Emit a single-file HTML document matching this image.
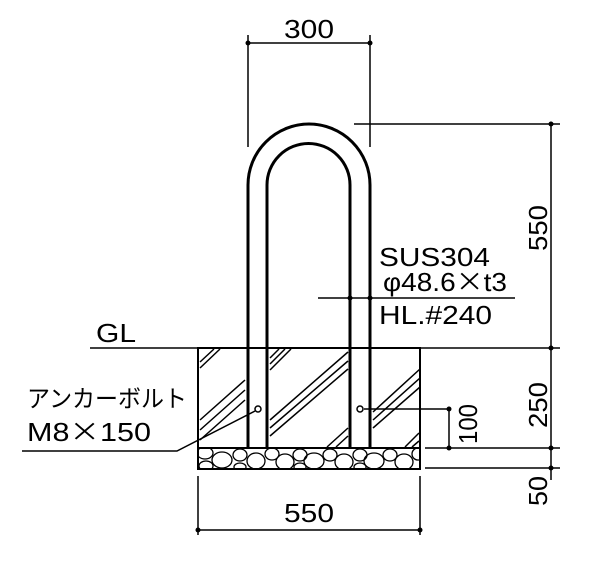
<!DOCTYPE html>
<html><head><meta charset="utf-8"><style>html,body{margin:0;padding:0;background:#fff}svg{display:block}</style></head>
<body>
<svg width="600" height="569" viewBox="0 0 600 569" xmlns="http://www.w3.org/2000/svg" font-family="Liberation Sans, Noto Sans CJK JP, sans-serif">
<defs>
<clipPath id="g"><rect x="199" y="449" width="220" height="19"/></clipPath>
</defs>
<g stroke="#000" fill="none">
<path d="M248 448 V185 A61 61 0 0 1 370 185 V448" stroke-width="3"/>
<path d="M267 448 V185 A41.5 41.5 0 0 1 350 185 V448" stroke-width="3"/>
<g stroke-width="1.5">
<line x1="248" y1="35" x2="248" y2="147"/>
<line x1="370" y1="35" x2="370" y2="147"/>
<line x1="248" y1="43" x2="370" y2="43"/>
<line x1="354" y1="124" x2="560" y2="124"/>
<line x1="551" y1="124" x2="551" y2="480"/>
<line x1="90" y1="348" x2="560" y2="348"/>
<line x1="425" y1="448" x2="560" y2="448"/>
<line x1="425" y1="468" x2="560" y2="468"/>
<rect x="198" y="348" width="222" height="121" stroke-width="2"/>
<line x1="198" y1="448" x2="420" y2="448" stroke-width="2"/>
<line x1="198" y1="476" x2="198" y2="535"/>
<line x1="420" y1="476" x2="420" y2="535"/>
<line x1="198" y1="530" x2="420" y2="530"/>
<line x1="318" y1="298" x2="515" y2="298"/>
<polyline points="255,411 177,451 22,451"/>
<line x1="364" y1="409" x2="449" y2="409"/>
<line x1="449" y1="409" x2="449" y2="448"/>
</g>
<g stroke-width="1.5">
<line x1="200" y1="362" x2="214" y2="349"/><line x1="200" y1="368" x2="220" y2="349"/>
<line x1="200" y1="420" x2="245" y2="380"/><line x1="200" y1="430" x2="245" y2="390"/><line x1="200" y1="440" x2="245" y2="400"/>
<line x1="270" y1="358" x2="279" y2="349"/><line x1="270" y1="364" x2="285" y2="349"/><line x1="270" y1="370" x2="291" y2="349"/>
<line x1="270" y1="420" x2="348" y2="352"/><line x1="270" y1="428" x2="348" y2="361"/><line x1="270" y1="436" x2="348" y2="369"/>
<line x1="327" y1="447" x2="348" y2="428"/><line x1="336" y1="447" x2="348" y2="436"/>
<line x1="373" y1="412" x2="420" y2="369"/><line x1="373" y1="420" x2="420" y2="378"/><line x1="373" y1="428" x2="420" y2="387"/>
<line x1="405" y1="447" x2="419" y2="433"/><line x1="412" y1="447" x2="419" y2="441"/>
</g>
<g clip-path="url(#g)" stroke-width="1.3">
<ellipse cx="205" cy="453" rx="8" ry="6"/><ellipse cx="222" cy="460" rx="10" ry="8"/><ellipse cx="240" cy="455" rx="7" ry="6"/><ellipse cx="206" cy="466" rx="7" ry="5"/>
<ellipse cx="256" cy="461" rx="9" ry="8"/><ellipse cx="272" cy="454" rx="7" ry="6"/><ellipse cx="285" cy="462" rx="9" ry="8"/><ellipse cx="300" cy="455" rx="7" ry="6"/>
<ellipse cx="314" cy="461" rx="10" ry="8"/><ellipse cx="330" cy="455" rx="7" ry="6"/><ellipse cx="344" cy="462" rx="9" ry="8"/><ellipse cx="360" cy="455" rx="7" ry="6"/>
<ellipse cx="374" cy="461" rx="10" ry="8"/><ellipse cx="390" cy="455" rx="7" ry="6"/><ellipse cx="404" cy="462" rx="9" ry="8"/><ellipse cx="418" cy="454" rx="6" ry="6"/>
<ellipse cx="240" cy="467" rx="6" ry="4"/><ellipse cx="300" cy="467" rx="6" ry="4"/><ellipse cx="360" cy="467" rx="6" ry="4"/>
</g>
<circle cx="258" cy="409" r="3" fill="#fff" stroke-width="1.5"/>
<circle cx="360" cy="409" r="3" fill="#fff" stroke-width="1.5"/>
</g>
<g fill="#000">
<circle cx="248" cy="43" r="2.5"/><circle cx="370" cy="43" r="2.5"/>
<circle cx="551" cy="124" r="2.5"/><circle cx="551" cy="348" r="2.5"/><circle cx="551" cy="448" r="2.5"/><circle cx="551" cy="468" r="2.5"/>
<circle cx="198" cy="530" r="2.5"/><circle cx="420" cy="530" r="2.5"/>
<circle cx="350" cy="298" r="2.5"/><circle cx="370" cy="298" r="2.5"/>
<circle cx="449" cy="409" r="2.5"/><circle cx="449" cy="448" r="2.5"/>
</g>
<g fill="#000" font-size="26">
<text x="284" y="38" textLength="50" lengthAdjust="spacingAndGlyphs">300</text>
<text x="284" y="522" textLength="50" lengthAdjust="spacingAndGlyphs">550</text>
<text x="96" y="342" textLength="40" lengthAdjust="spacingAndGlyphs">GL</text>
<text x="379" y="266" textLength="111" lengthAdjust="spacingAndGlyphs">SUS304</text>
<text x="383" y="291" textLength="124" lengthAdjust="spacingAndGlyphs">φ48.6<tspan font-family="Noto Sans CJK JP, sans-serif">×</tspan>t3</text>
<text x="379" y="324" textLength="113" lengthAdjust="spacingAndGlyphs">HL.#240</text>
<text x="27" y="407" font-size="24" textLength="160" lengthAdjust="spacingAndGlyphs">アンカーボルト</text>
<text x="27" y="441" textLength="124" lengthAdjust="spacingAndGlyphs">M8<tspan font-family="Noto Sans CJK JP, sans-serif">×</tspan>150</text>
<text transform="translate(547,251) rotate(-90)" textLength="46" lengthAdjust="spacingAndGlyphs">550</text>
<text transform="translate(547,428) rotate(-90)" textLength="46" lengthAdjust="spacingAndGlyphs">250</text>
<text transform="translate(547,506) rotate(-90)" textLength="30" lengthAdjust="spacingAndGlyphs">50</text>
<text transform="translate(477,444) rotate(-90)" textLength="40" lengthAdjust="spacingAndGlyphs">100</text>
</g>
</svg>
</body></html>
